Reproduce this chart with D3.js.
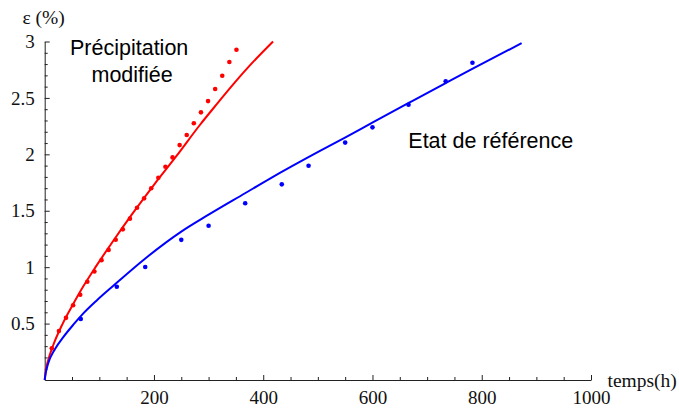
<!DOCTYPE html>
<html>
<head>
<meta charset="utf-8">
<script src="https://cdn.jsdelivr.net/npm/d3@7"></script>
<style>
  html, body { margin: 0; padding: 0; background: #fff; }
  svg { display: block; }
</style>
</head>
<body>
<svg id="chart" width="679" height="410"></svg>
<script>
// ---- Data ----
// Measured points, "Précipitation modifiée" (red)
const redTime   = [13, 26, 39, 52, 65, 78, 91, 104, 117, 130, 143, 156, 169, 182, 195, 208, 221, 234, 247, 260, 273, 286, 299, 312, 325, 338, 351];
const redStrain = [0.281, 0.434, 0.551, 0.662, 0.756, 0.871, 0.961, 1.062, 1.153, 1.243, 1.335, 1.430, 1.526, 1.610, 1.699, 1.793, 1.890, 1.973, 2.082, 2.171, 2.275, 2.372, 2.472, 2.579, 2.696, 2.818, 2.927];
// Measured points, "Etat de référence" (blue)
const blueTime   = [66, 132, 184, 250, 300, 367, 434, 483, 550, 600, 666, 734, 783];
const blueStrain = [0.541, 0.827, 1.001, 1.242, 1.367, 1.567, 1.734, 1.899, 2.104, 2.239, 2.440, 2.648, 2.812];
// Fitted curves
const redFitTime   = [0, 2, 6.6, 15.7, 33, 52.4, 70.7, 93, 125, 160, 200, 242, 284, 315, 345, 376, 418];
const redFitStrain = [0, 0.085, 0.18, 0.31, 0.50, 0.675, 0.83, 1.0, 1.23, 1.47, 1.73, 1.99, 2.26, 2.445, 2.62, 2.79, 3.0];
const blueFitTime   = [0, 2, 6.6, 18.9, 34, 52.4, 70.7, 95.2, 125.6, 183.6, 250, 300, 366.7, 412.4, 503.9, 549.7, 599.7, 666.3, 734, 783.5, 873];
const blueFitStrain = [0, 0.065, 0.15, 0.275, 0.38, 0.49, 0.59, 0.705, 0.835, 1.075, 1.315, 1.465, 1.655, 1.785, 2.03, 2.148, 2.28, 2.455, 2.632, 2.76, 2.985];
// Axis ticks
const xMajorTicks = [200, 400, 600, 800, 1000];
const xMinorTicks = [50, 100, 150, 250, 300, 350, 450, 500, 550, 650, 700, 750, 850, 900, 950];
const yMajorTicks = [0.5, 1, 1.5, 2, 2.5, 3];
const yTickLabels = ["0.5", "1", "1.5", "2", "2.5", "3"];
const yMinorTicks = [0.1,0.2,0.3,0.4,0.6,0.7,0.8,0.9,1.1,1.2,1.3,1.4,1.6,1.7,1.8,1.9,2.1,2.2,2.3,2.4,2.6,2.7,2.8,2.9];
const xAxisLabel = "temps(h)";
const yAxisLabel = "ε (%)";
const redLabel = ["Précipitation", "modifiée"];
const blueLabel = "Etat de référence";

// ---- Drawing ----
const svg = d3.select("#chart");
const x = d3.scaleLinear().domain([0, 1000]).range([44.7, 591]);
const y = d3.scaleLinear().domain([0, 3]).range([380, 41.5]);

const serif = "'Liberation Serif', 'Times New Roman', serif";
const sans = "'Liberation Sans', Arial, sans-serif";
const axisColor = "#222";

// X axis
const gx = svg.append("g").attr("transform", `translate(0,${y(0)})`);
gx.call(d3.axisBottom(x).tickValues(xMajorTicks).tickSizeInner(-5).tickSizeOuter(0).tickPadding(11).tickFormat(d3.format("d")));
const gxm = svg.append("g").attr("transform", `translate(0,${y(0)})`);
gxm.call(d3.axisBottom(x).tickValues(xMinorTicks).tickSizeInner(-3).tickSizeOuter(0).tickFormat(""));
gxm.select(".domain").remove();

// Y axis
const gy = svg.append("g").attr("transform", `translate(${x(0)},0)`);
gy.call(d3.axisLeft(y).tickValues(yMajorTicks).tickSizeInner(-5).tickSizeOuter(0).tickPadding(10)
  .tickFormat((d, i) => yTickLabels[i]));
const gym = svg.append("g").attr("transform", `translate(${x(0)},0)`);
gym.call(d3.axisLeft(y).tickValues(yMinorTicks).tickSizeInner(-3).tickSizeOuter(0).tickFormat(""));
gym.select(".domain").remove();

[gx, gy].forEach(g => g.attr("font-family", serif).attr("font-size", 19));
svg.selectAll(".domain").attr("stroke", axisColor).attr("stroke-width", 1);
svg.selectAll(".tick line").attr("stroke", axisColor).attr("stroke-width", 1);
svg.selectAll(".tick text").style("font-family", serif).style("font-size", "19px").attr("fill", "#111");

// Axis labels
svg.append("text").attr("x", 607.5).attr("y", 387).style("font-family", serif).style("font-size", "19.5px")
  .attr("fill", "#111").text(xAxisLabel);
svg.append("text").attr("x", 22.5).attr("y", 24).style("font-family", serif).style("font-size", "19.5px")
  .attr("fill", "#111").text(yAxisLabel);

// Fit curves
const line = d3.line().x(d => x(d[0])).y(d => y(d[1])).curve(d3.curveMonotoneX);
svg.append("path").datum(redFitTime.map((t, i) => [t, redFitStrain[i]]))
  .attr("d", line).attr("fill", "none").attr("stroke", "#ff0000").attr("stroke-width", 2);
svg.append("path").datum(blueFitTime.map((t, i) => [t, blueFitStrain[i]]))
  .attr("d", line).attr("fill", "none").attr("stroke", "#0000ff").attr("stroke-width", 2);

// Measured points
svg.append("g").selectAll("circle").data(redTime.map((t, i) => [t, redStrain[i]])).join("circle")
  .attr("cx", d => x(d[0])).attr("cy", d => y(d[1])).attr("r", 2.3).attr("fill", "#ff0000");
svg.append("g").selectAll("circle").data(blueTime.map((t, i) => [t, blueStrain[i]])).join("circle")
  .attr("cx", d => x(d[0])).attr("cy", d => y(d[1])).attr("r", 2.3).attr("fill", "#0000ff");

// Annotations
svg.append("text").attr("x", 70).attr("y", 55).style("font-family", sans).style("font-size", "21.5px")
  .attr("fill", "#000").text(redLabel[0]);
svg.append("text").attr("x", 91.5).attr("y", 81.5).style("font-family", sans).style("font-size", "21.5px")
  .attr("fill", "#000").text(redLabel[1]);
svg.append("text").attr("x", 408.3).attr("y", 148).style("font-family", sans).style("font-size", "21.5px")
  .attr("fill", "#000").text(blueLabel);
</script>
</body>
</html>
